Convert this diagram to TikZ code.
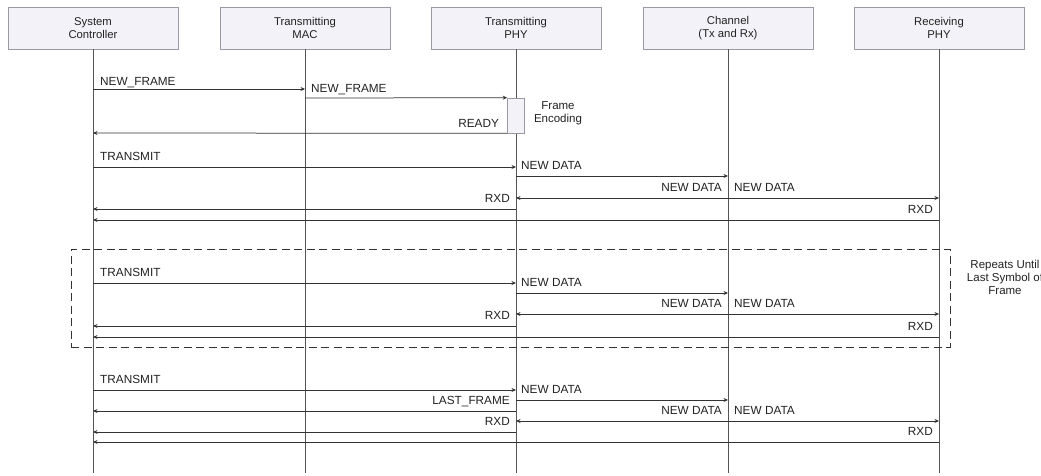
\documentclass[tikz,border=0pt]{standalone}
\usepackage{fontspec}
\setmainfont{Liberation Sans}
\usetikzlibrary{arrows.meta,calc}
\definecolor{hdrfill}{HTML}{F2F2F8}
\definecolor{hdrdraw}{HTML}{9A9AA4}
\definecolor{lineclr}{HTML}{555555}
\definecolor{msgclr}{HTML}{333333}
\definecolor{txtclr}{HTML}{222222}
\newcommand\msg[4]{%
  \coordinate (#4a) at (#1 |- 0,#3);
  \coordinate (#4b) at (#2 |- 0,#3);
  \draw[msgline] (#4a) -- (#4b);}
\begin{document}
\begin{tikzpicture}[x=1pt,y=-1pt,
  font=\fontsize{11.5}{13}\selectfont, text=txtclr,
  hdr/.style={draw=hdrdraw, fill=hdrfill, line width=0.6pt, minimum width=170pt, minimum height=42pt, align=center, inner sep=0pt, font=\fontsize{11.3}{13}\selectfont},
  life/.style={draw=lineclr, line width=0.6pt},
  msgline/.style={draw=msgclr, line width=0.75pt, -{Stealth[length=4.5pt,width=4pt]}},
  lbl/.style={inner sep=0pt, font=\fontsize{11.8}{13}\selectfont},
  actbox/.style={draw=hdrdraw, fill=hdrfill, line width=0.6pt, minimum width=17pt, minimum height=35pt, inner sep=0pt},
  loopbox/.style={draw=msgclr, dash pattern=on 8pt off 4.5pt, line width=0.75pt, minimum width=879pt, minimum height=98pt, inner sep=0pt},
  note/.style={align=center, inner sep=0pt, font=\fontsize{11.5}{13}\selectfont}]
\useasboundingbox (0,0) rectangle (1041,475);

% headers
\node[hdr] (sc)  at (93,28)  {System\\Controller};
\node[hdr] (mac) at (305,28) {Transmitting\\MAC};
\node[hdr] (phy) at (516,28) {Transmitting\\PHY};
\node[hdr] (ch)  at (728,28) {Channel\\(Tx and Rx)};
\node[hdr] (rx)  at (939,28) {Receiving\\PHY};

% lifelines
\foreach \n in {sc,mac,phy,ch,rx}{
  \coordinate (\n-end) at (\n.south |- 0,473);
  \draw[life] (\n.south) -- (\n-end);
}

% activation box
\node[actbox] (enc) at (516,115.5) {};
\node[note] (enclbl) at (558,113) {Frame\\Encoding};

% loop box
\node[loopbox] (loop) at (510.5,298) {};
\node[note] (looplbl) at (1005,277) {Repeats Until\\Last Symbol of\\Frame};

% ---- section 1
\msg{sc}{mac}{89}{m1}
\node[lbl, anchor=base west] (l1) at ($(m1a)+(7,-4)$) {NEW\_FRAME};
\coordinate (m2a) at (mac |- 0,98);
\draw[msgline] (m2a) -- (enc.north west);
\node[lbl, anchor=base west] (l2) at ($(m2a)+(6,-6)$) {NEW\_FRAME};
\coordinate (m3b) at (sc |- 0,133);
\draw[msgline] (enc.south west) -- (m3b);
\node[lbl, anchor=base east] (l3) at ($(enc.south west)+(-8,-6)$) {READY};
\msg{sc}{phy}{167}{m4}
\node[lbl, anchor=base west] (l4) at ($(m4a)+(7,-7)$) {TRANSMIT};
\msg{phy}{ch}{176}{m5}
\node[lbl, anchor=base west] (l5) at ($(m5a)+(5,-7)$) {NEW DATA};
\msg{ch}{rx}{198}{m6}
\node[lbl, anchor=base west] (l6) at ($(m6a)+(6,-7)$) {NEW DATA};
\msg{ch}{phy}{198}{m7}
\node[lbl, anchor=base east] (l7) at ($(m7a)+(-6,-7)$) {NEW DATA};
\msg{phy}{sc}{209}{m8}
\node[lbl, anchor=base east] (l8) at ($(m8a)+(-6,-7)$) {RXD};
\msg{rx}{sc}{220}{m9}
\node[lbl, anchor=base east] (l9) at ($(m9a)+(-6,-7)$) {RXD};

% ---- section 2 (loop)
\msg{sc}{phy}{283}{n4}
\node[lbl, anchor=base west] (k4) at ($(n4a)+(7,-7)$) {TRANSMIT};
\msg{phy}{ch}{293}{n5}
\node[lbl, anchor=base west] (k5) at ($(n5a)+(5,-7)$) {NEW DATA};
\msg{ch}{rx}{314}{n6}
\node[lbl, anchor=base west] (k6) at ($(n6a)+(6,-7)$) {NEW DATA};
\msg{ch}{phy}{314}{n7}
\node[lbl, anchor=base east] (k7) at ($(n7a)+(-6,-7)$) {NEW DATA};
\msg{phy}{sc}{326}{n8}
\node[lbl, anchor=base east] (k8) at ($(n8a)+(-6,-7)$) {RXD};
\msg{rx}{sc}{337}{n9}
\node[lbl, anchor=base east] (k9) at ($(n9a)+(-6,-7)$) {RXD};

% ---- section 3
\msg{sc}{phy}{390}{p4}
\node[lbl, anchor=base west] (q4) at ($(p4a)+(7,-7)$) {TRANSMIT};
\msg{phy}{ch}{400}{p5}
\node[lbl, anchor=base west] (q5) at ($(p5a)+(5,-7)$) {NEW DATA};
\msg{phy}{sc}{411}{p3}
\node[lbl, anchor=base east] (q3) at ($(p3a)+(-6,-7)$) {LAST\_FRAME};
\msg{ch}{rx}{421}{p6}
\node[lbl, anchor=base west] (q6) at ($(p6a)+(6,-7)$) {NEW DATA};
\msg{ch}{phy}{421}{p7}
\node[lbl, anchor=base east] (q7) at ($(p7a)+(-6,-7)$) {NEW DATA};
\msg{phy}{sc}{432}{p8}
\node[lbl, anchor=base east] (q8) at ($(p8a)+(-6,-7)$) {RXD};
\msg{rx}{sc}{442}{p9}
\node[lbl, anchor=base east] (q9) at ($(p9a)+(-6,-7)$) {RXD};
\end{tikzpicture}
\end{document}
